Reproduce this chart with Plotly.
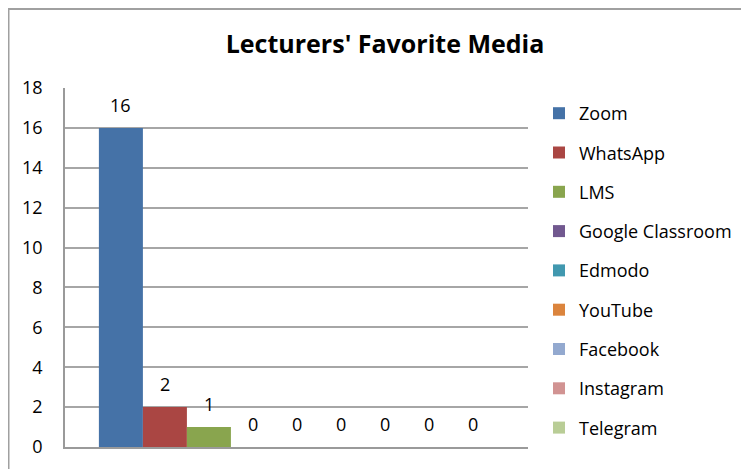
import plotly.graph_objects as go

media = ["Zoom", "WhatsApp", "LMS", "Google Classroom", "Edmodo",
         "YouTube", "Facebook", "Instagram", "Telegram"]
counts = [16, 2, 1, 0, 0, 0, 0, 0, 0]
colors = ["#4572A7", "#AA4643", "#89A54E", "#71588F", "#4198AF",
          "#DB843D", "#93A9CF", "#D19392", "#B9CD96"]
y_ticks = [0, 2, 4, 6, 8, 10, 12, 14, 16, 18]

FONT = "Open Sans"
OFF = 8  # page body margin
W, H = 749 - OFF, 469 - OFF
L, R, T, B = 65 - OFF, 528 - OFF, 88 - OFF, 447 - OFF

def px_x(p):
    return (p - OFF - L) / (R - L)

def px_y(p):
    return (B - (p - OFF)) / (B - T)

fig = go.Figure()
annotations = []
for i, (name, val, col) in enumerate(zip(media, counts, colors)):
    fig.add_trace(go.Bar(
        x=[i], y=[val], name=name, width=1,
        marker=dict(color=col, line=dict(width=0)),
        legendgroup=f"g{i}", hoverinfo="name+y",
    ))
    annotations.append(dict(x=i, y=val, xref="x", yref="y", text=str(val),
                            showarrow=False, yshift=23, yanchor="middle",
                            font=dict(family=FONT, size=18, color="#000000")))

fig.update_layout(
    width=W, height=H,
    margin=dict(l=L, r=W - R, t=T, b=H - B, autoexpand=False),
    paper_bgcolor="white", plot_bgcolor="white",
    barmode="overlay",
    annotations=annotations,
    title=dict(text="<b>Lecturers' Favorite Media</b>", x=(385 - OFF) / W,
               xref="container", xanchor="center",
               y=1 - (44 - OFF) / H, yanchor="middle",
               font=dict(family=FONT, size=25, color="#000000")),
    font=dict(family=FONT, size=18, color="#000000"),
    showlegend=True,
    legend=dict(x=px_x(539), y=px_y(95), xanchor="left", yanchor="top",
                font=dict(family=FONT, size=18, color="#000000"),
                tracegroupgap=12.9, itemwidth=30, bgcolor="rgba(0,0,0,0)"),
    xaxis=dict(showticklabels=False, showgrid=False, showline=True,
               linecolor="#9a9a9a", linewidth=1.5, ticks="", zeroline=False,
               range=[-1.27, 9.25]),
    yaxis=dict(range=[0, 18], tickvals=y_ticks, ticktext=[str(v) for v in y_ticks],
               showgrid=True, gridcolor="#a6a6a6", gridwidth=1.5,
               showline=True, linecolor="#9a9a9a", linewidth=1.5,
               ticks="", ticklabelstandoff=17, zeroline=False,
               tickfont=dict(family=FONT, size=18, color="#000000")),
    shapes=[dict(type="rect", xref="paper", yref="paper",
                 x0=px_x(8.5), x1=px_x(800), y0=px_y(520), y1=px_y(9),
                 line=dict(color="#a0a0a0", width=2), fillcolor="rgba(0,0,0,0)",
                 layer="below")],
)

fig.write_html("out.html")
